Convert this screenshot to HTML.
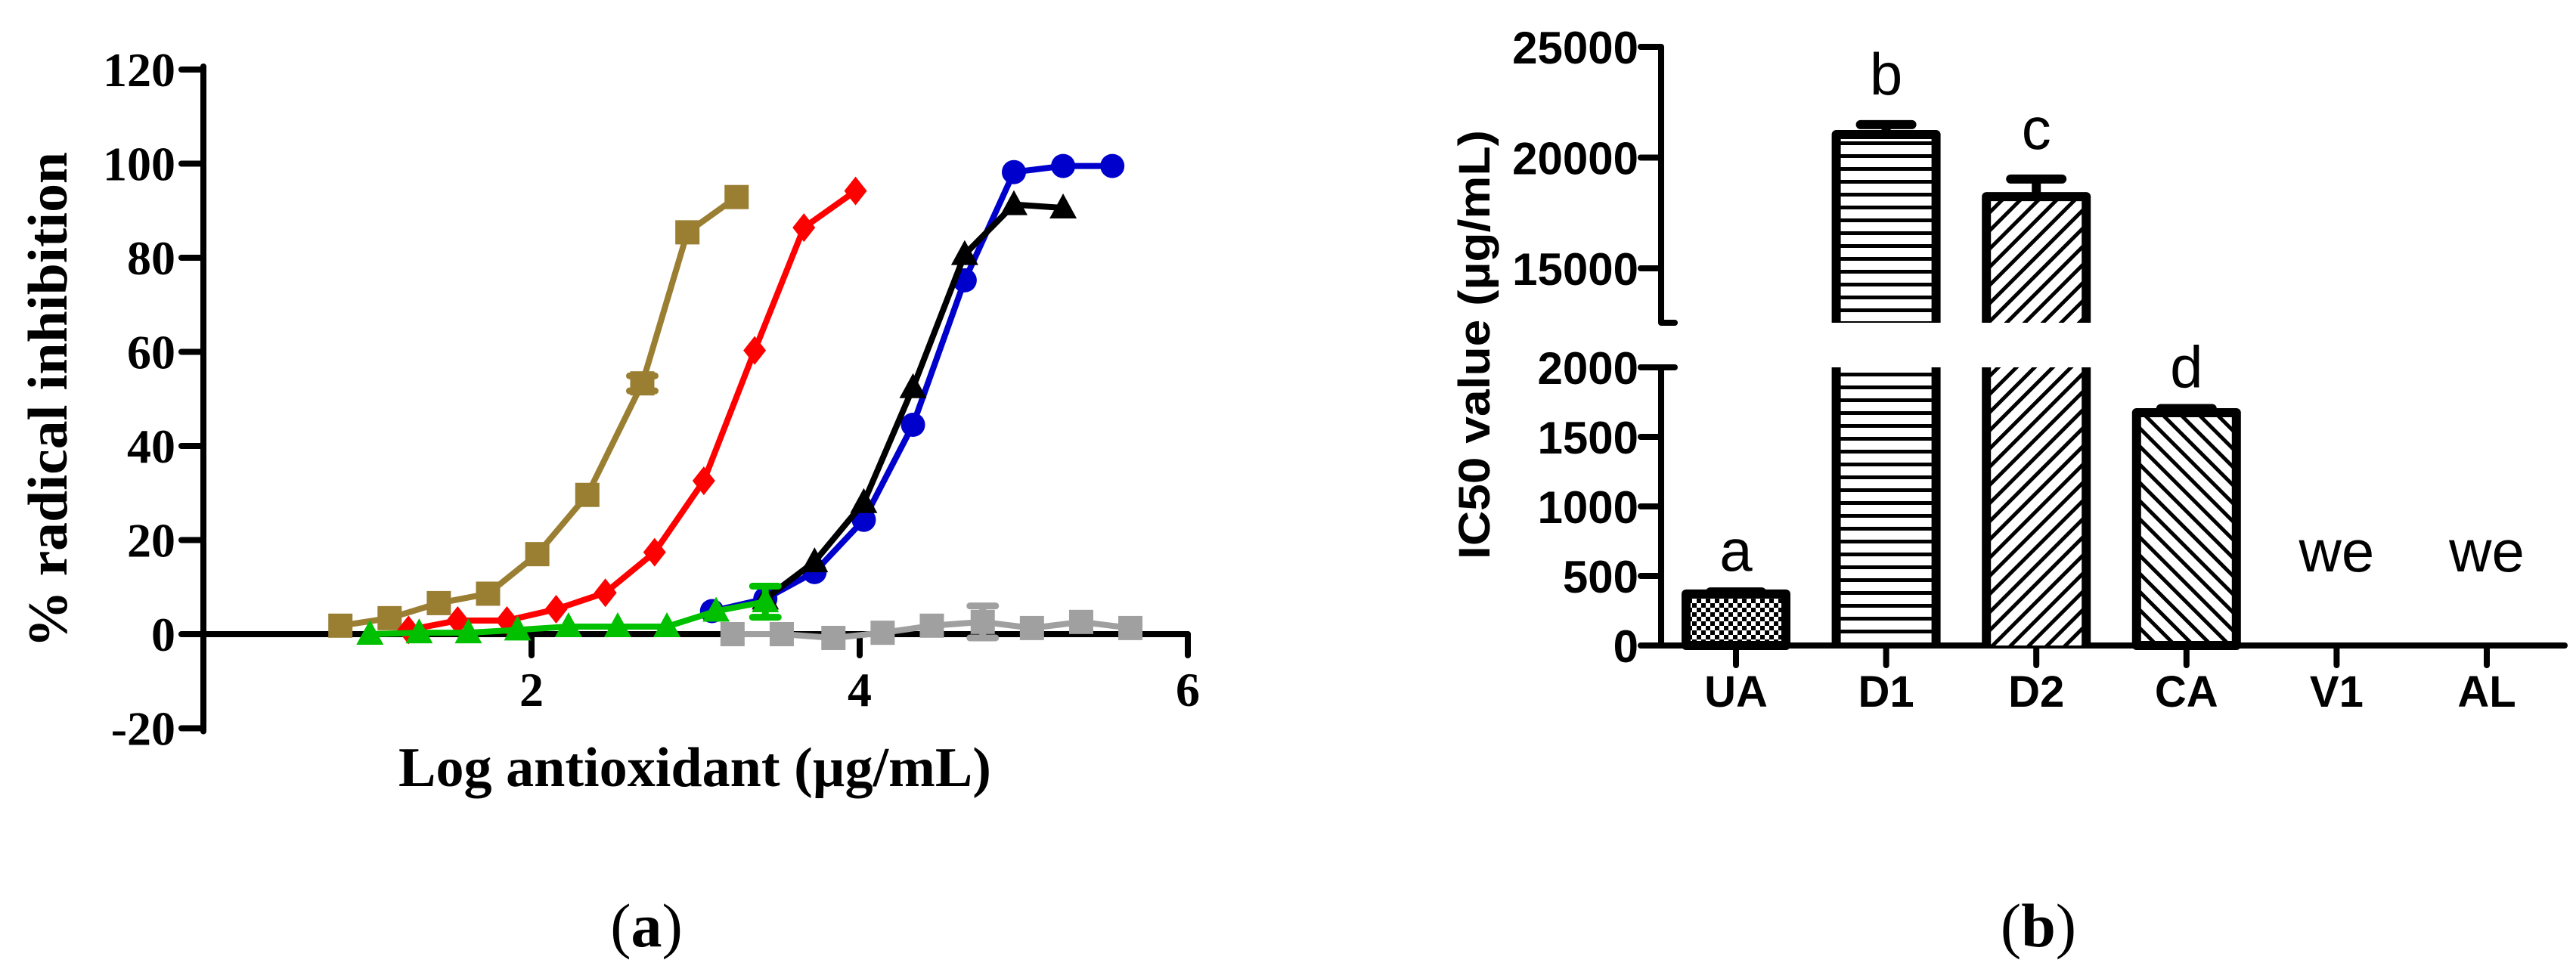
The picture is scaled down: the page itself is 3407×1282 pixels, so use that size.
<!DOCTYPE html>
<html><head><meta charset="utf-8">
<style>
html,body{margin:0;padding:0;background:#fff;}
svg{display:block;}
</style></head>
<body>
<svg id="fig" xmlns="http://www.w3.org/2000/svg" width="3407" height="1282" viewBox="0 0 3407 1282">
<defs>
<pattern id="pChk" width="12" height="12" patternUnits="userSpaceOnUse"><rect width="12" height="12" fill="#fff"/><rect width="6" height="6" fill="#000"/><rect x="6" y="6" width="6" height="6" fill="#000"/></pattern>
<pattern id="pHor" width="17" height="17" patternUnits="userSpaceOnUse"><rect width="17" height="17" fill="#fff"/><rect y="0" width="17" height="5" fill="#000"/></pattern>
<pattern id="pFwd" width="17" height="17" patternUnits="userSpaceOnUse" patternTransform="rotate(45)"><rect width="17" height="17" fill="#fff"/><rect x="0" width="5" height="17" fill="#000"/></pattern>
<pattern id="pBck" width="17" height="17" patternUnits="userSpaceOnUse" patternTransform="rotate(-45)"><rect width="17" height="17" fill="#fff"/><rect x="0" width="5" height="17" fill="#000"/></pattern>
</defs>
<g id="chartA"></g>
<g id="chartB"></g>
<text x="855" y="1252" text-anchor="middle" font-family="Liberation Serif, serif" font-size="82">(<tspan font-weight="bold">a</tspan>)</text>
<text x="2696" y="1252" text-anchor="middle" font-family="Liberation Serif, serif" font-size="82">(<tspan font-weight="bold">b</tspan>)</text>
</svg>
<script>
// ---------- Chart A data ----------
const xTicksA = [2, 4, 6];
const yTicksA = [-20, 0, 20, 40, 60, 80, 100, 120];
const brownX = [0.835,1.135,1.435,1.735,2.035,2.34,2.675,2.95,3.25];
const brownY = [1.8,3.4,6.6,8.6,17,29.6,53.3,85.4,92.9];
const brownErr = [0,0,0,0,0,0,1.6,0,0];
const redX = [1.25,1.55,1.85,2.15,2.45,2.75,3.05,3.36,3.66,3.975];
const redY = [0.9,2.9,2.9,5.3,8.8,17.4,32.6,60.3,86.4,94.2];
const blueX = [3.1,3.425,3.725,4.025,4.325,4.64,4.94,5.24,5.54];
const blueY = [4.9,7.5,13.2,24.3,44.5,75.2,98.2,99.5,99.5];
const blackX = [3.425,3.725,4.025,4.325,4.64,4.94,5.24];
const blackY = [7.5,15.4,28,52.4,80.7,91.3,90.6];
const grayX = [3.225,3.525,3.84,4.14,4.44,4.75,5.05,5.35,5.65];
const grayY = [0,0,-0.8,0.3,1.8,2.6,1.3,2.6,1.3];
const grayErr = [0,0,0,0,0,3.4,0,0,0];
const greenX = [1.015,1.315,1.615,1.915,2.225,2.525,2.825,3.125,3.425];
const greenY = [0,0.3,0.3,0.9,1.6,1.6,1.6,4.9,6.9];
const greenErr = [0,0,0,0,0,0,0,0,3.3];

// ---------- Chart B data ----------
const categoriesB = ["UA","D1","D2","CA","V1","AL"];
const valuesB = [370,21040,18240,1674,0,0];
const errorsB = [15,450,790,30,0,0];
const lettersB = ["a","b","c","d","we","we"];
const lowTicksB = [0,500,1000,1500,2000];
const highTicksB = [15000,20000,25000];

const NS = "http://www.w3.org/2000/svg";
function mk(tag, parent, attrs){const e=document.createElementNS(NS,tag);for(const k in attrs)e.setAttribute(k,attrs[k]);parent.appendChild(e);return e;}

// ---------- Chart A ----------
const A = document.getElementById('chartA');
const xA = v => 269 + v*217;
const yA = v => 839 - v*(747/120);
const serif = "Liberation Serif, serif";

let ax = mk('line',A,{x1:269,y1:yA(120)-4,x2:269,y2:yA(-20)+4,stroke:'#000','stroke-width':8,'stroke-linecap':'round'});


ax = mk('line',A,{x1:269,y1:839,x2:xA(6),y2:839,stroke:'#000','stroke-width':8,'stroke-linecap':'round'});


yTicksA.forEach(v=>{
  const t=mk('line',A,{x1:240,y1:yA(v),x2:269,y2:yA(v),stroke:'#000','stroke-width':8,'stroke-linecap':'round'});
  
  
  const l=mk('text',A,{x:232,y:yA(v)+22,'text-anchor':'end','font-family':serif,'font-weight':'bold','font-size':64});
  l.textContent=v;
  
  
});
xTicksA.forEach(v=>{
  const t=mk('line',A,{x1:xA(v),y1:839,x2:xA(v),y2:867,stroke:'#000','stroke-width':8,'stroke-linecap':'round'});
  
  
  const l=mk('text',A,{x:xA(v),y:934,'text-anchor':'middle','font-family':serif,'font-weight':'bold','font-size':64});
  l.textContent=v;
  
  
});
let tt=mk('text',A,{x:919,y:1040,'text-anchor':'middle','font-family':serif,'font-weight':'bold','font-size':74,textLength:784,lengthAdjust:'spacingAndGlyphs'});
tt.textContent='Log antioxidant (\u00b5g/mL)';


tt=mk('text',A,{x:0,y:0,'text-anchor':'middle','font-family':serif,'font-weight':'bold','font-size':74,textLength:656,lengthAdjust:'spacingAndGlyphs',transform:'translate(88,529) rotate(-90)'});
tt.textContent='% radical inhibition';



function marker(g,shape,cx,cy,color){
  let m;
  if(shape==='square') m=mk('rect',g,{x:cx-16,y:cy-16,width:32,height:32,fill:color});
  else if(shape==='diamond') m=mk('polygon',g,{points:`${cx},${cy-19} ${cx+15},${cy} ${cx},${cy+19} ${cx-15},${cy}`,fill:color});
  else if(shape==='circle') m=mk('circle',g,{cx:cx,cy:cy,r:16,fill:color});
  else m=mk('polygon',g,{points:`${cx},${cy-19} ${cx+18},${cy+14} ${cx-18},${cy+14}`,fill:color});
  return m;
}
function series(name,xs,ys,errs,color,shape){
  const g=mk('g',A,{});
  
  
  const pts=xs.map((x,i)=>xA(x)+','+yA(ys[i])).join(' ');
  const pl=mk('polyline',g,{points:pts,fill:'none',stroke:color,'stroke-width':8,'stroke-linejoin':'round'});
  
  
  xs.forEach((x,i)=>{
    const e=errs?errs[i]:0;
    if(e>0){
      const eb=mk('path',g,{d:`M${xA(x)},${yA(ys[i]+e)}V${yA(ys[i]-e)}M${xA(x)-17},${yA(ys[i]+e)}h34M${xA(x)-17},${yA(ys[i]-e)}h34`,stroke:color,'stroke-width':9,fill:'none','stroke-linecap':'round'});
      
      
    }
    const m=marker(g,shape,xA(x),yA(ys[i]),color);
    
    
  });
}
series('brown',brownX,brownY,brownErr,'#9a7e32','square');
series('red',redX,redY,null,'#ff0000','diamond');
series('blue',blueX,blueY,null,'#0000cc','circle');
series('black',blackX,blackY,null,'#000000','triangle');
series('gray',grayX,grayY,grayErr,'#a0a0a0','square');
series('green',greenX,greenY,greenErr,'#00c000','triangle');

// ---------- Chart B ----------
const B = document.getElementById('chartB');
const sans = "Liberation Sans, sans-serif";
const yLow = v => 854 - v*(92/500);
const yHigh = v => 62 + (25000-v)*(146.5/5000);
const xB = i => 2296 + i*198.6;
const AXX = 2197, LOW_TOP = 486, HIGH_BOT = 427;

ax=mk('line',B,{x1:AXX,y1:LOW_TOP,x2:AXX,y2:854,stroke:'#000','stroke-width':8});


ax=mk('line',B,{x1:AXX,y1:yHigh(25000),x2:AXX,y2:HIGH_BOT,stroke:'#000','stroke-width':8});


let bt=mk('line',B,{x1:AXX,y1:HIGH_BOT,x2:AXX+18,y2:HIGH_BOT,stroke:'#000','stroke-width':8,'stroke-linecap':'round'});


bt=mk('line',B,{x1:AXX,y1:LOW_TOP,x2:AXX+18,y2:LOW_TOP,stroke:'#000','stroke-width':8,'stroke-linecap':'round'});


ax=mk('line',B,{x1:AXX,y1:854,x2:3392,y2:854,stroke:'#000','stroke-width':8,'stroke-linecap':'round'});



function yTickB(y,v){
  const t=mk('line',B,{x1:AXX-27,y1:y,x2:AXX,y2:y,stroke:'#000','stroke-width':8,'stroke-linecap':'round'});
  
  
  const l=mk('text',B,{x:AXX-30,y:y+22,'text-anchor':'end','font-family':sans,'font-weight':'bold','font-size':60});
  l.textContent=v;
  
  
}
lowTicksB.forEach(v=>yTickB(yLow(v),v));
highTicksB.forEach(v=>yTickB(yHigh(v),v));

tt=mk('text',B,{x:0,y:0,'text-anchor':'middle','font-family':sans,'font-weight':'bold','font-size':58,textLength:568,lengthAdjust:'spacingAndGlyphs',transform:'translate(1970,456) rotate(-90)'});
tt.textContent='IC50 value (\u00b5g/mL)';



const fills=['url(#pChk)','url(#pHor)','url(#pFwd)','url(#pBck)','none','none'];
categoriesB.forEach((c,i)=>{
  const cx=xB(i), v=valuesB[i], e=errorsB[i], hw=66;
  const tk=mk('line',B,{x1:cx,y1:854,x2:cx,y2:880,stroke:'#000','stroke-width':8,'stroke-linecap':'round'});
  
  
  const cl=mk('text',B,{x:cx,y:935,'text-anchor':'middle','font-family':sans,'font-weight':'bold','font-size':58});
  cl.textContent=c;
  
  
  let topY, capTop;
  if(v>0){
    if(v>2000){
      topY=yHigh(v); capTop=yHigh(v+e);
      const up=mk('path',B,{d:`M${cx-hw},${HIGH_BOT}V${topY}H${cx+hw}V${HIGH_BOT}`,fill:fills[i],stroke:'#000','stroke-width':12,'stroke-linejoin':'round'});
      
      
      const lo=mk('path',B,{d:`M${cx-hw},${LOW_TOP}V854M${cx+hw},854V${LOW_TOP}`,fill:'none',stroke:'#000','stroke-width':12});
      const lf=mk('rect',B,{x:cx-hw,y:LOW_TOP,width:2*hw,height:854-LOW_TOP,fill:fills[i]});
      B.insertBefore(lf,lo);
      
      
      
      
    } else {
      topY=yLow(v); capTop=yLow(v+e);
      const b=mk('rect',B,{x:cx-hw,y:topY,width:2*hw,height:854-topY,fill:fills[i],stroke:'#000','stroke-width':12,'stroke-linejoin':'round'});
      
      
    }
    const eb=mk('path',B,{d:`M${cx},${topY}V${capTop}M${cx-34},${capTop}h68`,stroke:'#000','stroke-width':12,'stroke-linecap':'round',fill:'none'});
    
    
  }
  let ly = v>2000 ? yHigh(v+e)-40 : (v>0 ? yLow(v+e)-28 : 756);
  const lt=mk('text',B,{x:cx,y:ly,'text-anchor':'middle','font-family':sans,'font-size':78});
  lt.textContent=lettersB[i];
  
  
});
</script>
</body></html>
